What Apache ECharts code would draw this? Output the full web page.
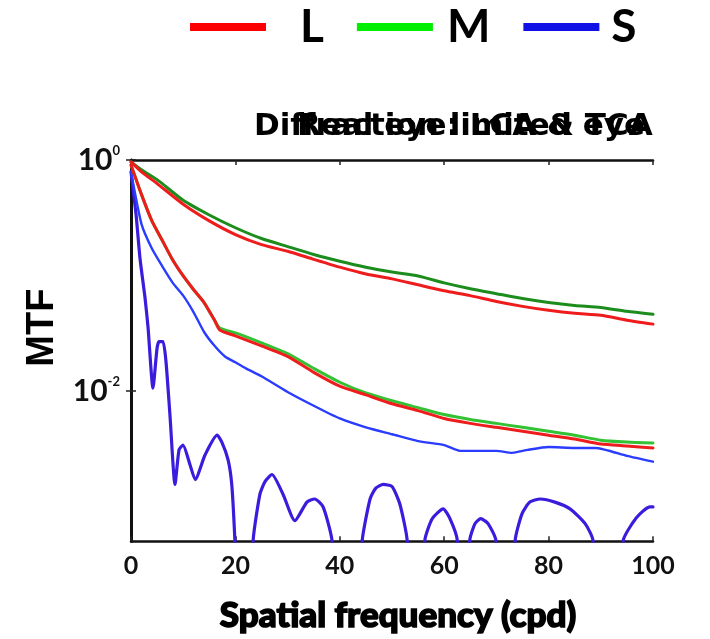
<!DOCTYPE html>
<html>
<head>
<meta charset="utf-8">
<script src="https://cdn.jsdelivr.net/npm/echarts@6/dist/echarts.min.js"></script>
<style>
  html, body { margin: 0; padding: 0; background: #fff; }
  #chart { width: 710px; height: 639px; }
</style>
</head>
<body>
<div id="chart"></div>
<script>
// Cone-specific modulation transfer functions (L, M, S cones)

// Diffraction-limited eye, L and M cones
const diffFreq = [0, 2, 5, 10, 15, 20, 25, 30, 35, 40, 45, 50, 55, 60, 65, 70, 75, 80, 85, 90, 95, 100];
const diffL = [0.962, 0.790, 0.625, 0.414, 0.297, 0.226, 0.185, 0.162, 0.138, 0.118, 0.103, 0.0934, 0.0830, 0.0738, 0.0669, 0.0595, 0.0540, 0.0499, 0.0470, 0.0452, 0.0410, 0.0379];
const diffM = [0.962, 0.822, 0.676, 0.448, 0.334, 0.259, 0.209, 0.178, 0.152, 0.133, 0.118, 0.107, 0.0990, 0.0863, 0.0768, 0.0696, 0.0631, 0.0583, 0.0550, 0.0529, 0.0489, 0.0461];

// Diffraction-limited eye, S cone (oscillating, near-zero values fall below the axis)
const diffSFreq = [0, 0.96, 1.72, 2.68, 3.26, 4.21, 4.98, 5.36, 6.13, 6.7, 7.47, 8.43, 9.2, 9.96, 11.3, 12.3, 14.2, 16.5, 17.4, 18.6, 19.3, 19.9, 21.5, 23.4, 24.7, 25.7, 27.0, 29.1, 31.4, 33.7, 35.2, 36.8, 38.5, 41.4, 44.3, 45.8, 46.9, 48.3, 50.0, 51.5, 52.9, 54.6, 56.3, 57.7, 59.8, 61.1, 62.5, 63.7, 64.9, 65.9, 67.0, 68.4, 69.9, 72, 73.6, 74.9, 76.4, 78.4, 81.2, 84.1, 87.0, 88.5, 91.3, 94.3, 96.0, 97.5, 99.4, 100];
const diffS = [0.790, 0.340, 0.141, 0.0644, 0.0357, 0.0106, 0.0232, 0.0267, 0.0267, 0.0180, 0.00612, 0.00155, 0.00309, 0.00340, 0.00230, 0.00171, 0.00280, 0.00414, 0.00361, 0.00253, 0.00155, 0.00051, 0.00001, 0.00051, 0.00128, 0.00165, 0.00189, 0.00128, 0.000753, 0.00109, 0.00116, 0.000991, 0.00051, 0.00001, 0.00051, 0.00116, 0.00144, 0.00155, 0.00149, 0.00105, 0.00051, 0.00001, 0.00051, 0.000783, 0.000953, 0.000783, 0.00051, 0.00001, 0.00051, 0.000710, 0.000783, 0.000710, 0.00051, 0.00001, 0.00051, 0.000863, 0.00109, 0.00116, 0.00109, 0.000953, 0.000710, 0.00051, 0.00001, 0.00051, 0.000710, 0.000863, 0.000991, 0.000991];

// Real eye (LCA & TCA), L and M cones
const realFreq = [0, 2, 4, 6, 8, 10, 12, 14, 16, 17, 20, 25, 30, 35, 40, 45, 50, 55, 60, 65, 70, 75, 80, 85, 90, 95, 100];
const realL = [0.906, 0.504, 0.297, 0.201, 0.136, 0.0990, 0.0753, 0.0583, 0.0410, 0.0337, 0.0300, 0.0246, 0.0199, 0.0145, 0.0110, 0.00924, 0.00775, 0.00676, 0.00578, 0.00524, 0.00484, 0.00448, 0.00414, 0.00383, 0.00347, 0.00334, 0.00321];
const realM = [0.906, 0.504, 0.297, 0.201, 0.136, 0.0990, 0.0753, 0.0583, 0.0410, 0.0350, 0.0318, 0.0261, 0.0211, 0.0157, 0.0119, 0.00961, 0.00822, 0.00717, 0.00625, 0.00566, 0.00524, 0.00484, 0.00448, 0.00414, 0.00375, 0.00361, 0.00354];

// Real eye (LCA & TCA), S cone
const realSFreq = [0, 2, 4, 6, 8, 10, 12, 14, 16, 18, 20, 22, 25, 30, 35, 40, 45, 50, 55, 60, 63, 70, 73, 76, 80, 85, 89, 95, 100];
const realS = [0.790, 0.280, 0.171, 0.120, 0.0863, 0.0669, 0.0480, 0.0324, 0.0246, 0.0199, 0.0177, 0.0157, 0.0134, 0.00980, 0.00745, 0.00578, 0.00484, 0.00422, 0.00368, 0.00340, 0.00303, 0.00303, 0.00291, 0.00309, 0.00327, 0.00321, 0.00321, 0.00274, 0.00244];

// Axis ticks
const xTicks = [0, 20, 40, 60, 80, 100];
const yTickValues = [1, 0.01];
const coneNames = ['L', 'M', 'S'];
const titles = ['Diffraction limited eye', 'Real eye: LCA & TCA'];

const pairs = (xs, ys) => xs.map((x, i) => [x, ys[i]]);
const LATO = 'Lato, Carlito, "Open Sans", sans-serif';
const DEJAVU = '"DejaVu Sans", Verdana, sans-serif';
const ARIAL = '"Liberation Sans", Arial, sans-serif';

const chart = echarts.init(document.getElementById('chart'), null, { renderer: 'canvas' });

function lineSeries(name, xs, ys, color, width, z, smooth) {
  return {
    type: 'line', name: name, data: pairs(xs, ys),
    showSymbol: false, symbol: 'none', clip: true, z: z,
    smooth: smooth,
    lineStyle: { color: color, width: width, cap: 'round', join: 'round' },
    itemStyle: { color: color },
    emphasis: { disabled: true }
  };
}

const frameLine = { show: true, lineStyle: { color: '#111', width: 2.5 } };
const frameTick = { show: true, inside: true, length: 5, lineStyle: { color: '#222', width: 1.5 } };

function yLabel(v) {
  const p = Math.round(Math.log10(v));
  return '{b|10}{s|' + p + '}';
}

const titleStyle = { fontFamily: DEJAVU, fontSize: 31, fontWeight: 'bold', color: '#000' };

chart.setOption({
  animation: false,
  backgroundColor: '#fff',
  title: [
    { text: titles[0], left: 254, top: 111, padding: 0, textStyle: titleStyle },
    { text: titles[1], left: 297, top: 111, padding: 0, textStyle: titleStyle }
  ],
  legend: {
    left: 190, top: 4, padding: 0, itemGap: 33,
    icon: 'rect', itemWidth: 76, itemHeight: 8,
    selectedMode: false,
    textStyle: { fontFamily: LATO, fontSize: 46, fontWeight: 'bold', color: '#000' },
    data: [
      { name: coneNames[0], itemStyle: { color: '#ff0000' }, textStyle: { padding: [0, 0, 0, 29] } },
      { name: coneNames[1], itemStyle: { color: '#00ee00' }, textStyle: { padding: [0, 0, 0, 9] } },
      { name: coneNames[2], itemStyle: { color: '#1111e6' }, textStyle: { padding: [0, 0, 0, 7] } }
    ]
  },
  grid: { left: 131, right: 57, top: 160, bottom: 92, containLabel: false },
  xAxis: [
    {
      type: 'value', min: xTicks[0], max: xTicks[xTicks.length - 1], interval: 20, position: 'bottom',
      axisLine: frameLine, axisTick: frameTick, splitLine: { show: false },
      axisLabel: { margin: 12, fontFamily: LATO, fontSize: 25, fontWeight: 'bold', color: '#111' },
      name: 'Spatial frequency (cpd)', nameLocation: 'middle', nameGap: 57,
      nameTextStyle: {
        fontFamily: LATO, fontSize: 35, fontWeight: 900, color: '#000',
        textBorderColor: '#000', textBorderWidth: 1.6, padding: [0, 0, 0, 12]
      }
    },
    {
      type: 'value', min: xTicks[0], max: xTicks[xTicks.length - 1], interval: 20, position: 'top',
      axisLine: frameLine, axisTick: frameTick, splitLine: { show: false },
      axisLabel: { show: false }
    }
  ],
  yAxis: [
    {
      type: 'log', logBase: 10, min: 0.0005, max: 1, position: 'left',
      axisLine: { show: true, lineStyle: { color: '#111', width: 3 } },
      axisTick: Object.assign({}, frameTick, { customValues: yTickValues }),
      splitLine: { show: false }, minorTick: { show: false },
      axisLabel: {
        customValues: yTickValues, margin: 11, formatter: yLabel,
        rich: {
          b: { fontFamily: LATO, fontSize: 30, fontWeight: 'bold', color: '#111', lineHeight: 30 },
          s: { fontFamily: LATO, fontSize: 13, fontWeight: 'bold', color: '#111', lineHeight: 13, padding: [0, 0, 19, 0] }
        }
      },
      name: 'MTF', nameLocation: 'middle', nameGap: 68, nameRotate: 90,
      nameTextStyle: { fontFamily: ARIAL, fontSize: 38, fontWeight: 'bold', color: '#000', padding: [0, 0, 0, 46] }
    },
    {
      type: 'log', logBase: 10, min: 0.0005, max: 1, position: 'right',
      axisLine: frameLine,
      axisTick: Object.assign({}, frameTick, { customValues: yTickValues }),
      splitLine: { show: false }, minorTick: { show: false },
      axisLabel: { show: false }
    }
  ],
  series: [
    lineSeries(coneNames[2], diffSFreq, diffS, '#3a1cdc', 3.2, 2, 0.2),
    lineSeries(coneNames[2], realSFreq, realS, '#2a3cff', 2.4, 3, 0.2),
    lineSeries(coneNames[1], diffFreq, diffM, '#1c8c1c', 3, 4, 0.2),
    lineSeries(coneNames[0], diffFreq, diffL, '#ee1c1c', 3, 5, 0.2),
    lineSeries(coneNames[1], realFreq, realM, '#33c233', 3, 4, 0.2),
    lineSeries(coneNames[0], realFreq, realL, '#ee1c1c', 3, 5, 0.2)
  ]
});
</script>
</body>
</html>
